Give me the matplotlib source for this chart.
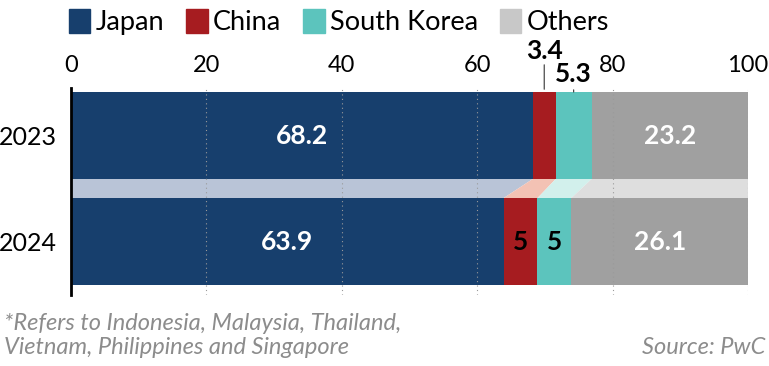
import numpy as np
import matplotlib.pyplot as plt
from matplotlib.patches import Patch

plt.rcParams['font.family'] = ['Lato', 'DejaVu Sans']

years = ['2023', '2024']
countries = ['Japan', 'China', 'South Korea', 'Others']
japan = [68.2, 63.9]
china = [3.4, 5.0]
korea = [5.3, 5.0]
others = [23.2, 26.1]
labels = [['68.2', '3.4', '5.3', '23.2'], ['63.9', '5', '5', '26.1']]

colors = ['#173f6d', '#a61c20', '#5cc4bd', '#a0a0a0']
light = ['#b9c4d7', '#f3c2b4', '#d2f0ec', '#dedede']
legend_colors = ['#173f6d', '#a61c20', '#5cc4bd', '#c8c8c8']

data = np.array([japan, china, korea, others])  # shape (4, 2)
lefts = np.vstack([np.zeros(2), np.cumsum(data, axis=0)[:-1]])

fig = plt.figure(figsize=(7.69, 3.66), dpi=100)
ax = fig.add_axes([71 / 769, (366 - 295) / 366, 677 / 769, 207 / 366])

h = 0.82
ypos = np.arange(len(years))
for i in range(4):
    ax.barh(ypos, data[i], left=lefts[i], height=h, color=colors[i], zorder=2)
    # connector band between the two bars
    l0, r0 = lefts[i][0], lefts[i][0] + data[i][0]
    l1, r1 = lefts[i][1], lefts[i][1] + data[i][1]
    y0, y1 = ypos[0] + h / 2, ypos[1] - h / 2
    ax.fill([l0, r0, r1, l1], [y0, y0, y1, y1], color=light[i], lw=0, zorder=1)

# value labels
for j in range(2):
    for i in range(4):
        cx = lefts[i][j] + data[i][j] / 2
        if j == 0 and i in (1, 2):
            continue
        col = 'black' if (j == 1 and i in (1, 2)) else 'white'
        ax.text(cx, ypos[j], labels[j][i], ha='center', va='center', color=col,
                fontsize=19, fontweight='bold', zorder=5)

# small segments labelled above the bar
cx_china = lefts[1][0] + data[1][0] / 2
cx_korea = lefts[2][0] + data[2][0] / 2
top = ypos[0] - h / 2
px = 1 / 106  # one pixel in y data units
ax.annotate('', xy=(cx_china, top), xytext=(cx_china, top - 30 * px), annotation_clip=False,
            arrowprops=dict(arrowstyle='-', color='#333333', lw=0.8))
ax.text(cx_china, top - 41 * px, labels[0][1], ha='center', va='center', fontsize=19,
        fontweight='bold', clip_on=False)
ax.annotate('', xy=(cx_korea, top), xytext=(cx_korea, top - 5 * px), annotation_clip=False,
            arrowprops=dict(arrowstyle='-', color='#333333', lw=0.8))
ax.text(cx_korea, top - 18 * px, labels[0][2], ha='center', va='center', fontsize=19,
        fontweight='bold', clip_on=False)

for x in [20, 40, 60, 80, 100]:
    ax.axvline(x, color='#9a9a9a', lw=0.8, ls=(0, (1, 3)), zorder=3)

ax.set_xlim(0, 100)
ax.set_ylim(1.504, -0.448)
ax.set_yticks(ypos)
ax.set_yticklabels(years, fontsize=18)
ax.set_xticks([0, 20, 40, 60, 80, 100])
ax.xaxis.tick_top()
ax.tick_params(axis='x', length=0, labelsize=17, pad=9)
ax.tick_params(axis='y', length=0, pad=10)
for s in ['top', 'right', 'bottom']:
    ax.spines[s].set_visible(False)
ax.spines['left'].set_linewidth(2)
ax.spines['left'].set_color('black')

handles = [Patch(color=c) for c in legend_colors]
fig.legend(handles, countries, loc='upper left', bbox_to_anchor=(0.075, 1.005), ncol=4,
           frameon=False, fontsize=19.5, handlelength=0.8, handleheight=1.0,
           handletextpad=0.2, columnspacing=0.8, borderaxespad=0)

fig.text(4 / 769, 1 - 323 / 366, '*Refers to Indonesia, Malaysia, Thailand,', fontsize=17,
         style='italic', color='#8c8c8c', va='center')
fig.text(4 / 769, 1 - 347 / 366, 'Vietnam, Philippines and Singapore', fontsize=17,
         style='italic', color='#8c8c8c', va='center')
fig.text(765 / 769, 1 - 347 / 366, 'Source: PwC', fontsize=17, style='italic',
         color='#8c8c8c', va='center', ha='right')

fig.savefig('out.png', dpi=100)
